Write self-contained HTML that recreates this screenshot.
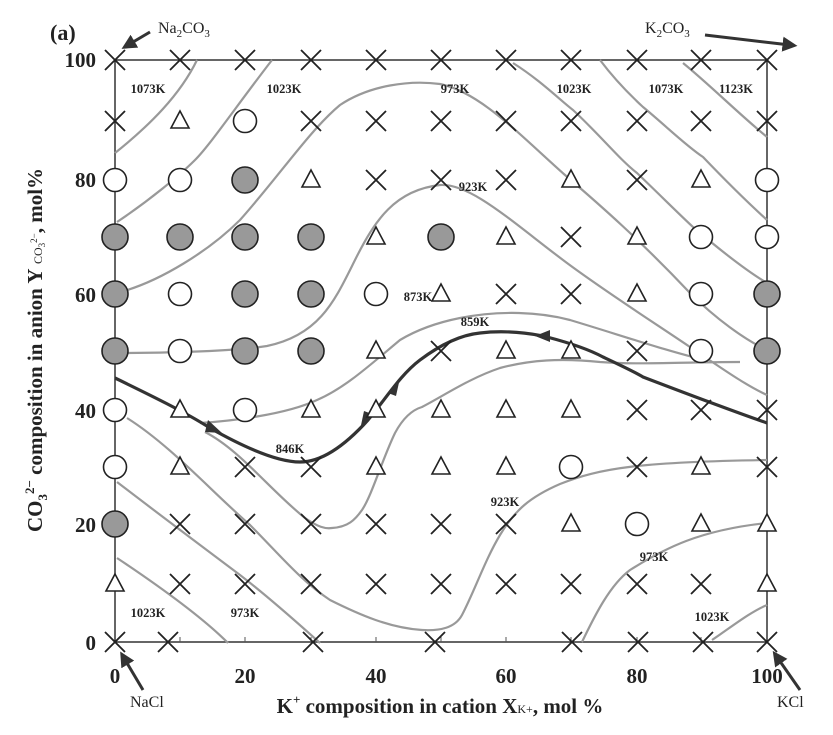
<!DOCTYPE html>
<html><head><style>body{margin:0;background:#fff}svg{display:block}</style></head><body>
<svg width="833" height="735" viewBox="0 0 833 735" xmlns="http://www.w3.org/2000/svg" font-family="Liberation Serif, serif">
<rect width="833" height="735" fill="#fff"/>
<defs>
<marker id="ar" viewBox="0 0 10 10" refX="5" refY="5" markerWidth="5" markerHeight="5" orient="auto"><path d="M0,0 L10,5 L0,10 z" fill="#333"/></marker>
<g id="x"><path d="M-10,-10L10,10M-10,10L10,-10" stroke="#222" stroke-width="1.8"/></g>
<g id="t"><path d="M0,-10L9,7L-9,7Z" fill="#fff" stroke="#222" stroke-width="1.6"/></g>
<g id="o"><circle r="11.5" fill="#fff" stroke="#222" stroke-width="1.6"/></g>
<g id="f"><circle r="13" fill="#999" stroke="#222" stroke-width="1.6"/></g>
</defs>
<!-- frame -->
<path d="M115,642 L115,60 L767,60 L767,642 Z" fill="none" stroke="#333" stroke-width="1.5"/>
<g stroke="#555" stroke-width="1">
<path d="M180,642v-5M245,642v-5M311,642v-5M376,642v-5M441,642v-5M506,642v-5M571,642v-5M637,642v-5M701,642v-5"/>
</g>
<!-- contours -->
<g fill="none" stroke="#999" stroke-width="2.2" stroke-linejoin="round">
<path d="M115,153 C150,125 180,95 197,60"/>
<path d="M117,222 C150,200 180,175 195,160 S235,108 272,60"/>
<path d="M117,293 C160,282 210,250 240,220 C280,175 310,130 340,105 C370,85 410,80 440,84 C480,92 520,135 565,175 C600,205 640,240 690,293 C715,318 745,340 767,350"/>
<path d="M117,353 C150,353 230,352 267,346 C320,335 335,300 355,260 C375,220 395,190 440,185 C470,183 510,220 563,260 C600,288 650,320 690,347 C720,367 745,385 767,395"/>
<path d="M513,63 C540,80 560,100 573,110 C600,135 620,160 637,173 C660,195 680,215 693,227 C720,250 745,270 767,283"/>
<path d="M600,60 C615,80 630,95 643,107 C665,125 685,145 703,157 C725,180 745,200 767,220"/>
<path d="M683,63 C710,85 740,115 767,137"/>
<path d="M200,423 C230,421 285,415 317,400 C345,388 370,365 400,340 C420,328 440,322 460,318 C500,310 540,312 570,320 C620,335 670,352 705,360"/>
<path d="M205,432 C240,450 270,490 305,518 C318,527 325,529 332,528 C348,527 355,520 362,510 C372,495 382,460 395,433 C403,418 412,410 422,407 C445,395 470,378 500,368 C530,360 560,358 600,362 C640,365 680,362 740,362"/>
<path d="M127,418 C170,445 210,490 250,525 C280,555 300,580 330,600 C360,615 390,628 422,630 C440,631 455,628 462,615 C475,590 485,560 500,535 C515,510 530,497 560,484 C600,468 640,462 767,460"/>
<path d="M117,482 C160,515 200,545 240,575 C270,598 300,625 320,643"/>
<path d="M117,558 C150,580 200,615 228,643"/>
<path d="M582,642 C595,615 610,585 630,570 C665,548 700,530 767,523"/>
<path d="M712,640 C730,628 750,612 767,605"/>
</g>
<!-- thick line -->
<path d="M115,378 C150,395 185,412 210,428 C240,445 275,462 300,462 C325,462 350,440 368,420 C385,400 400,375 420,360 C440,345 460,335 480,333 C505,330 530,333 547,337 C570,343 590,350 603,357 C620,365 635,372 643,377 C690,395 730,410 767,423" fill="none" stroke="#333" stroke-width="3.2"/>
<g fill="#333">
<path d="M222,433 L208,420 L205,432 Z"/>
<path d="M360,430 L372,414 L364,411 Z"/>
<path d="M400,378 L388,393 L396,396 Z"/>
<path d="M535,336 L550,330 L550,342 Z"/>
</g>
<!-- markers -->
<g id="m">
<use href="#x" x="115" y="60"/><use href="#x" x="180" y="60"/><use href="#x" x="245" y="60"/><use href="#x" x="311" y="60"/><use href="#x" x="376" y="60"/><use href="#x" x="441" y="60"/><use href="#x" x="506" y="60"/><use href="#x" x="571" y="60"/><use href="#x" x="637" y="60"/><use href="#x" x="701" y="60"/><use href="#x" x="767" y="60"/>
<use href="#x" x="115" y="121"/><use href="#t" x="180" y="121"/><use href="#o" x="245" y="121"/><use href="#x" x="311" y="121"/><use href="#x" x="376" y="121"/><use href="#x" x="441" y="121"/><use href="#x" x="506" y="121"/><use href="#x" x="571" y="121"/><use href="#x" x="637" y="121"/><use href="#x" x="701" y="121"/><use href="#x" x="767" y="121"/>
<use href="#o" x="115" y="180"/><use href="#o" x="180" y="180"/><use href="#f" x="245" y="180"/><use href="#t" x="311" y="180"/><use href="#x" x="376" y="180"/><use href="#x" x="441" y="180"/><use href="#x" x="506" y="180"/><use href="#t" x="571" y="180"/><use href="#x" x="637" y="180"/><use href="#t" x="701" y="180"/><use href="#o" x="767" y="180"/>
<use href="#f" x="115" y="237"/><use href="#f" x="180" y="237"/><use href="#f" x="245" y="237"/><use href="#f" x="311" y="237"/><use href="#t" x="376" y="237"/><use href="#f" x="441" y="237"/><use href="#t" x="506" y="237"/><use href="#x" x="571" y="237"/><use href="#t" x="637" y="237"/><use href="#o" x="701" y="237"/><use href="#o" x="767" y="237"/>
<use href="#f" x="115" y="294"/><use href="#o" x="180" y="294"/><use href="#f" x="245" y="294"/><use href="#f" x="311" y="294"/><use href="#o" x="376" y="294"/><use href="#t" x="441" y="294"/><use href="#x" x="506" y="294"/><use href="#x" x="571" y="294"/><use href="#t" x="637" y="294"/><use href="#o" x="701" y="294"/><use href="#f" x="767" y="294"/>
<use href="#f" x="115" y="351"/><use href="#o" x="180" y="351"/><use href="#f" x="245" y="351"/><use href="#f" x="311" y="351"/><use href="#t" x="376" y="351"/><use href="#x" x="441" y="351"/><use href="#t" x="506" y="351"/><use href="#t" x="571" y="351"/><use href="#x" x="637" y="351"/><use href="#o" x="701" y="351"/><use href="#f" x="767" y="351"/>
<use href="#o" x="115" y="410"/><use href="#t" x="180" y="410"/><use href="#o" x="245" y="410"/><use href="#t" x="311" y="410"/><use href="#t" x="376" y="410"/><use href="#t" x="441" y="410"/><use href="#t" x="506" y="410"/><use href="#t" x="571" y="410"/><use href="#x" x="637" y="410"/><use href="#x" x="701" y="410"/><use href="#x" x="767" y="410"/>
<use href="#o" x="115" y="467"/><use href="#t" x="180" y="467"/><use href="#x" x="245" y="467"/><use href="#x" x="311" y="467"/><use href="#t" x="376" y="467"/><use href="#t" x="441" y="467"/><use href="#t" x="506" y="467"/><use href="#o" x="571" y="467"/><use href="#x" x="637" y="467"/><use href="#t" x="701" y="467"/><use href="#x" x="767" y="467"/>
<use href="#f" x="115" y="524"/><use href="#x" x="180" y="524"/><use href="#x" x="245" y="524"/><use href="#x" x="311" y="524"/><use href="#x" x="376" y="524"/><use href="#x" x="441" y="524"/><use href="#x" x="506" y="524"/><use href="#t" x="571" y="524"/><use href="#o" x="637" y="524"/><use href="#t" x="701" y="524"/><use href="#t" x="767" y="524"/>
<use href="#t" x="115" y="584"/><use href="#x" x="180" y="584"/><use href="#x" x="245" y="584"/><use href="#x" x="311" y="584"/><use href="#x" x="376" y="584"/><use href="#x" x="441" y="584"/><use href="#x" x="506" y="584"/><use href="#x" x="571" y="584"/><use href="#x" x="637" y="584"/><use href="#x" x="701" y="584"/><use href="#t" x="767" y="584"/>
<use href="#x" x="115" y="642"/><use href="#x" x="168" y="642"/><use href="#x" x="313" y="642"/><use href="#x" x="435" y="642"/><use href="#x" x="572" y="642"/><use href="#x" x="638" y="642"/><use href="#x" x="703" y="642"/><use href="#x" x="767" y="642"/>
</g>
<!-- contour labels -->
<g font-size="12.5" font-weight="bold" fill="#222" text-anchor="middle">
<text x="148" y="93">1073K</text><text x="284" y="93">1023K</text><text x="455" y="93">973K</text><text x="574" y="93">1023K</text><text x="666" y="93">1073K</text><text x="736" y="93">1123K</text>
<text x="473" y="191">923K</text><text x="418" y="301">873K</text><text x="475" y="326">859K</text><text x="290" y="453">846K</text>
<text x="505" y="506">923K</text><text x="654" y="561">973K</text><text x="712" y="621">1023K</text><text x="148" y="617">1023K</text><text x="245" y="617">973K</text>
</g>
<!-- axis tick labels -->
<g font-size="21" font-weight="bold" fill="#222" text-anchor="end">
<text x="96" y="67">100</text><text x="96" y="187">80</text><text x="96" y="302">60</text><text x="96" y="418">40</text><text x="96" y="532">20</text><text x="96" y="650">0</text>
</g>
<g font-size="21" font-weight="bold" fill="#222" text-anchor="middle">
<text x="115" y="683">0</text><text x="245" y="683">20</text><text x="376" y="683">40</text><text x="506" y="683">60</text><text x="637" y="683">80</text><text x="767" y="683">100</text>
</g>
<text x="50" y="40" font-size="22" font-weight="bold" fill="#222">(a)</text>
<g font-size="16" fill="#222">
<text x="158" y="33">Na<tspan font-size="11" dy="4">2</tspan><tspan dy="-4">CO</tspan><tspan font-size="11" dy="4">3</tspan></text>
<text x="645" y="33">K<tspan font-size="11" dy="4">2</tspan><tspan dy="-4">CO</tspan><tspan font-size="11" dy="4">3</tspan></text>
<text x="130" y="707">NaCl</text>
<text x="777" y="707">KCl</text>
</g>
<g stroke="#333" stroke-width="3" marker-end="url(#ar)">
<path d="M150,32 L128,45"/>
<path d="M705,35 L790,45"/>
<path d="M143,690 L124,658"/>
<path d="M800,690 L777,657"/>
</g>
<text x="440" y="713" font-size="21" font-weight="bold" fill="#222" text-anchor="middle">K<tspan font-size="13" dy="-9">+</tspan><tspan dy="9"> composition in cation X</tspan><tspan font-size="12" font-weight="normal">K+</tspan>, mol %</text>
<text transform="translate(42,350) rotate(-90)" font-size="21" font-weight="bold" fill="#222" text-anchor="middle">CO<tspan font-size="13" dy="5">3</tspan><tspan font-size="13" dy="-13">2−</tspan><tspan dy="8"> composition in anion Y </tspan><tspan font-size="12" font-weight="normal">CO</tspan><tspan font-size="9" font-weight="normal" dy="3">3</tspan><tspan font-size="9" font-weight="normal" dy="-8">2−</tspan><tspan dy="5">, mol%</tspan></text>
</svg>
</body></html>
